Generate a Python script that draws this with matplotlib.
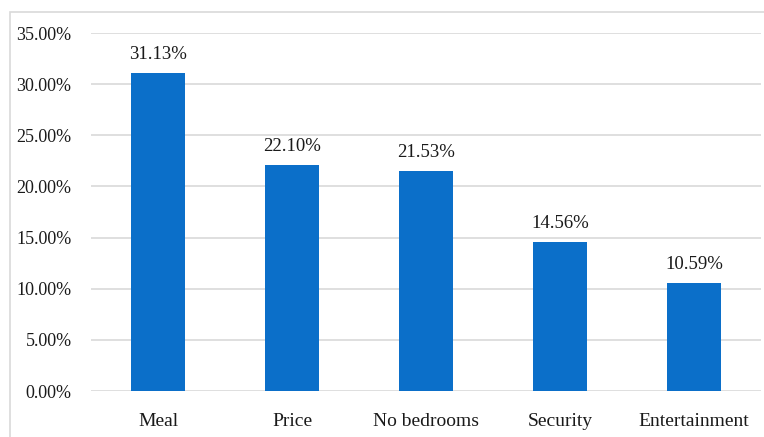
import matplotlib
matplotlib.use("Agg")
import matplotlib.pyplot as plt
from matplotlib.patches import Rectangle

categories = ["Meal", "Price", "No bedrooms", "Security", "Entertainment"]
values = [31.13, 22.10, 21.53, 14.56, 10.59]
yticks = [0, 5, 10, 15, 20, 25, 30, 35]

plt.rcParams['font.family'] = ['Liberation Serif', 'DejaVu Serif']

fig = plt.figure(figsize=(7.64, 4.37), dpi=100)
ax = fig.add_axes([91/764, 1-391/437, (761-91)/764, (391-33)/437])

x = range(len(categories))
bars = ax.bar(x, values, width=0.4, color='#0B6FC9', zorder=3)
for xi, v in zip(x, values):
    ax.annotate(f"{v:.2f}%", (xi, v), xytext=(0, 7), textcoords='offset points',
                ha='center', va='bottom', fontsize=13.5, color='#1a1a1a')

ax.set_xlim(-0.5, len(categories) - 0.5)
ax.set_ylim(0, 35)
ax.set_yticks(yticks)
ax.set_yticklabels([f"{t:.2f}%" for t in yticks])
ax.set_xticks(list(x))
ax.set_xticklabels(categories)
ax.tick_params(axis='y', length=0, pad=14, labelsize=13, labelcolor='#1a1a1a')
ax.tick_params(axis='x', length=0, pad=16, labelsize=14, labelcolor='#1a1a1a')
ax.grid(axis='y', color='#D9D9D9', linewidth=1.2, zorder=0)
for s in ax.spines.values():
    s.set_visible(False)

fig.patches.append(Rectangle((10/764, -0.2), 1.5, 1 - 12/437 + 0.2,
                             transform=fig.transFigure, fill=False,
                             edgecolor='#D9D9D9', linewidth=1.2))

fig.savefig("out.png", dpi=100)
